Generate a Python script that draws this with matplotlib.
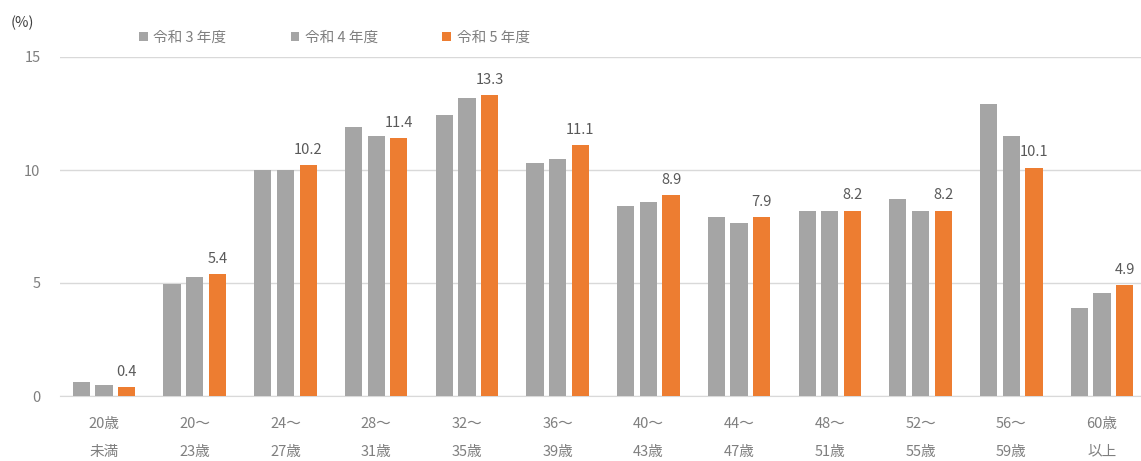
import matplotlib.pyplot as plt
import numpy as np

plt.rcParams['font.family'] = ['Noto Sans CJK JP', 'DejaVu Sans']

# 年齢区分
categories = ['20歳\n未満', '20～\n23歳', '24～\n27歳', '28～\n31歳', '32～\n35歳', '36～\n39歳',
              '40～\n43歳', '44～\n47歳', '48～\n51歳', '52～\n55歳', '56～\n59歳', '60歳\n以上']
series_names = ['令和 3 年度', '令和 4 年度', '令和 5 年度']

# 値 (%)
r3 = [0.6, 4.95, 10.0, 11.9, 12.45, 10.3, 8.4, 7.9, 8.2, 8.7, 12.9, 3.9]
r4 = [0.5, 5.25, 10.0, 11.5, 13.2, 10.5, 8.6, 7.65, 8.2, 8.2, 11.5, 4.55]
r5 = [0.4, 5.4, 10.2, 11.4, 13.3, 11.1, 8.9, 7.9, 8.2, 8.2, 10.1, 4.9]

colors = ['#A5A5A5', '#A5A5A5', '#ED7D31']
text_gray = '#7F7F7F'

fig = plt.figure(figsize=(11.41, 4.61), dpi=100)
ax = fig.add_axes([60 / 1141, 65 / 461, 1 - 60 / 1141, (396 - 57) / 461])

x = np.arange(len(categories))
width = 0.19
offset = 0.25
bars = []
for i, (vals, name) in enumerate(zip([r3, r4, r5], series_names)):
    b = ax.bar(x + (i - 1) * offset, vals, width, color=colors[i], label=name, zorder=3)
    bars.append(b)

# 令和5年度のみ数値ラベル
for rect, v in zip(bars[2], r5):
    ax.annotate(f'{v:.1f}', (rect.get_x() + rect.get_width() / 2, rect.get_height()),
                xytext=(0, 6), textcoords='offset points', ha='center', va='bottom',
                fontsize=10.5, color='#595959')

ax.set_ylim(0, 15)
ax.set_xlim(-0.485, 11.43)
ax.set_yticks([0, 5, 10, 15])
ax.set_xticks(x)
ax.set_xticklabels(categories, linespacing=2.25)
ax.tick_params(axis='both', length=0, colors=text_gray, labelsize=10.5)
ax.tick_params(axis='y', pad=14)
ax.tick_params(axis='x', pad=15)

ax.grid(axis='y', color='#D9D9D9', linewidth=1, zorder=0)
for s in ['left', 'right', 'top']:
    ax.spines[s].set_visible(False)
ax.spines['bottom'].set_color('#D9D9D9')

fig.text(22 / 1141, 1 - 23 / 461, '(%)', ha='center', va='center', fontsize=10.5, color='#404040')

leg = ax.legend(loc='center left', bbox_to_anchor=(133 / 1141, 1 - 38 / 461),
                bbox_transform=fig.transFigure, ncol=3, frameon=False,
                handlelength=0.6, handleheight=0.6, handletextpad=0.4,
                columnspacing=4.4, fontsize=10.5, borderaxespad=0)
for t in leg.get_texts():
    t.set_color(text_gray)

fig.savefig('out.png', dpi=100)
